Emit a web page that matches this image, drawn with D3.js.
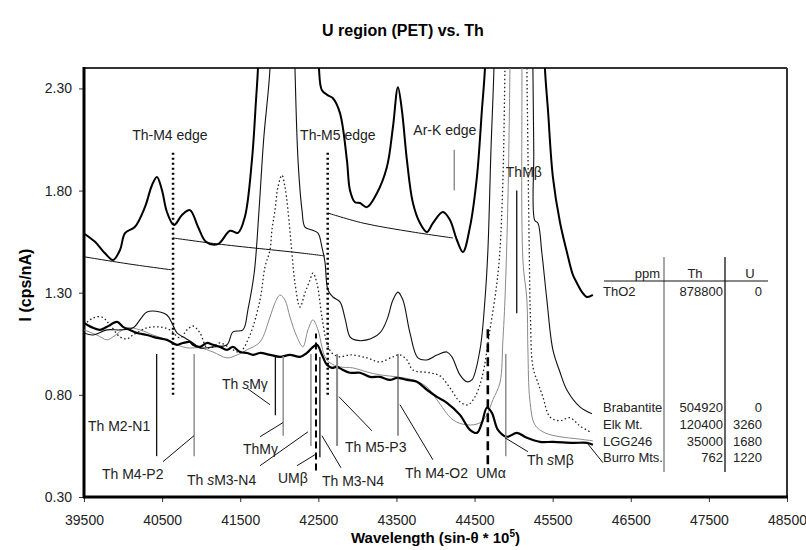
<!DOCTYPE html>
<html>
<head>
<meta charset="utf-8">
<script src="https://cdn.jsdelivr.net/npm/d3@7"></script>
<style>
  body { margin: 0; background: #fff; }
  svg { font-family: "Liberation Sans", Arial, sans-serif; }
</style>
</head>
<body>
<div id="chart"></div>
<script>
// Spectra: [wavelength (sin-theta * 1e5), intensity (cps/nA)]
const thO2 = [
  [39500,1.590],[39641,1.549],[39769,1.493],[39871,1.460],[39961,1.509],[40025,1.592],
  [40153,1.623],[40281,1.720],[40370,1.826],[40434,1.867],[40498,1.802],[40562,1.695],
  [40652,1.631],[40754,1.680],[40857,1.704],[40959,1.623],[41062,1.549],[41215,1.538],
  [41369,1.603],[41471,1.593],[41560,1.672],[41650,1.949],[41702,2.242],[41727,2.398],
  [41745,2.7],[42100,3.6],[42490,2.7],
  [42508,2.398],[42546,2.291],[42623,2.266],[42687,2.252],[42777,2.179],[42866,1.949],
  [42905,1.802],[42969,1.743],[43033,1.739],[43122,1.719],[43250,1.787],[43378,1.915],
  [43455,2.110],[43519,2.306],[43570,2.193],[43634,1.949],[43711,1.739],[43801,1.641],
  [43890,1.597],[43967,1.641],[44095,1.695],[44185,1.656],[44274,1.558],[44351,1.499],
  [44441,1.621],[44530,1.866],[44594,2.193],[44633,2.398],
  [44650,2.7],[45000,3.6],[45380,2.7],
  [45401,2.398],[45440,2.193],[45503,1.866],[45593,1.646],[45682,1.499],[45759,1.387],
  [45810,1.348],[45874,1.304],[45938,1.279],[46015,1.289]
];
const brabantite = [
  [39500,1.103],[39615,1.093],[39794,1.118],[39961,1.118],[40127,1.128],[40242,1.181],
  [40306,1.206],[40473,1.206],[40562,1.191],[40626,1.152],[40690,1.103],[40767,1.084],
  [40895,1.054],[40985,1.030],[41151,1.035],[41330,1.045],[41407,1.108],[41535,1.118],
  [41600,1.220],[41680,1.400],[41740,1.700],[41800,2.050],[41881,2.398],
  [41895,2.7],[42040,3.2],[42185,2.7],
  [42201,2.398],[42240,1.949],[42291,1.704],[42329,1.621],[42419,1.607],[42496,1.592],
  [42546,1.523],[42585,1.450],[42623,1.313],[42687,1.279],[42777,1.255],[42841,1.176],
  [42905,1.084],[42969,1.069],[43122,1.069],[43288,1.103],[43378,1.167],[43455,1.264],
  [43519,1.303],[43583,1.264],[43673,1.103],[43775,0.981],[43890,0.971],[44018,0.995],
  [44146,1.010],[44210,0.986],[44313,0.898],[44402,0.864],[44466,0.873],[44569,1.020],
  [44633,1.264],[44671,1.509],[44710,1.998],[44748,2.398],
  [44760,2.7],[45000,3.2],[45235,2.7],
  [45247,2.398],[45258,1.998],[45270,1.655],[45311,1.641],[45362,1.494],[45426,1.264],
  [45503,1.020],[45593,0.912],[45682,0.824],[45849,0.741],[46003,0.707]
];
const elkMt = [
  [39500,1.142],[39615,1.176],[39730,1.181],[39833,1.142],[39961,1.084],[40050,1.074],
  [40127,1.093],[40306,1.128],[40473,1.132],[40601,1.118],[40729,1.079],[40818,1.118],
  [40895,1.137],[40985,1.103],[41074,1.030],[41151,1.035],[41241,1.054],[41407,1.020],
  [41497,1.010],[41625,1.093],[41753,1.264],[41817,1.426],[41881,1.509],[41906,1.607],
  [41945,1.704],[41983,1.817],[42034,1.875],[42073,1.817],[42111,1.704],[42162,1.494],
  [42201,1.347],[42265,1.230],[42329,1.299],[42393,1.362],[42431,1.396],[42482,1.347],
  [42546,1.181],[42610,1.054],[42674,1.005],[42777,0.986],[42905,0.996],[43122,0.981],
  [43288,0.961],[43455,0.986],[43545,0.996],[43634,0.971],[43711,0.922],[43929,0.908],
  [44057,0.893],[44185,0.834],[44313,0.766],[44415,0.751],[44505,0.790],[44594,0.883],
  [44697,1.118],[44786,1.347],[44825,1.509],[44863,1.851],[44889,2.398],
  [44898,2.7],[45030,3.0],[45160,2.7],
  [45170,2.398],[45200,1.509],[45215,1.181],[45247,0.937],[45311,0.859],[45375,0.790],
  [45465,0.692],[45593,0.673],[45721,0.688],[45849,0.648],[46003,0.614]
];
const lgg246 = [
  [39500,1.118],[39666,1.093],[39794,1.069],[39871,1.084],[40050,1.128],[40217,1.118],
  [40383,1.093],[40562,1.069],[40690,1.045],[40818,1.030],[40985,1.030],[41151,1.010],
  [41330,0.981],[41458,0.995],[41586,1.020],[41753,1.059],[41881,1.181],[41945,1.250],
  [42009,1.289],[42073,1.264],[42137,1.181],[42226,1.084],[42303,1.035],[42367,1.118],
  [42431,1.167],[42496,1.118],[42546,1.035],[42585,0.986],[42649,0.957],[42777,0.937],
  [42943,0.932],[43122,0.912],[43288,0.898],[43506,0.888],[43711,0.873],[43890,0.839],
  [44018,0.776],[44223,0.678],[44402,0.653],[44569,0.663],[44658,0.702],[44735,0.776],
  [44825,0.859],[44863,1.069],[44889,1.264],[44927,1.753],[44953,2.398],
  [44960,2.7],[45030,2.9],[45098,2.7],
  [45106,2.398],[45119,1.460],[45170,1.264],[45183,1.020],[45208,0.775],[45273,0.653],
  [45401,0.614],[45593,0.595],[45810,0.585],[46015,0.575]
];
const burroMts = [
  [39500,1.152],[39615,1.128],[39705,1.118],[39794,1.133],[39922,1.157],[39999,1.133],
  [40089,1.118],[40178,1.103],[40306,1.093],[40434,1.079],[40562,1.069],[40690,1.045],
  [40767,1.054],[40857,1.059],[40895,1.045],[40985,1.035],[41074,1.054],[41151,1.045],
  [41241,1.035],[41330,1.020],[41407,1.035],[41497,1.010],[41586,1.005],[41663,0.996],
  [41753,1.005],[41881,0.996],[42009,0.986],[42137,0.996],[42265,0.986],[42354,1.005],
  [42419,1.030],[42482,1.045],[42546,0.996],[42610,0.947],[42674,0.932],[42738,0.937],
  [42815,0.922],[42905,0.908],[43033,0.908],[43161,0.888],[43288,0.888],[43417,0.873],
  [43506,0.883],[43634,0.873],[43762,0.864],[43890,0.825],[44018,0.790],[44146,0.761],
  [44313,0.702],[44441,0.629],[44530,0.614],[44594,0.663],[44658,0.737],[44722,0.712],
  [44799,0.629],[44914,0.595],[45042,0.614],[45170,0.590],[45337,0.570],[45503,0.570],
  [45759,0.565],[45938,0.565],[46015,0.556]
];

// Background fits under the edges
const backgrounds = [
  [[39500,1.476],[40089,1.440],[40639,1.411]],
  [[40640,1.568],[41202,1.539],[42265,1.495],[42585,1.480]],
  [[42623,1.690],[43071,1.641],[43711,1.597],[44223,1.568]]
];

// Absorption edges: [label, wavelength, low, high]
const edges = [
  ['Th-M4 edge', 40640, 0.80, 2.00],
  ['Th-M5 edge', 42620, 0.80, 2.00]
];
const arEdge = ['Ar-K edge', 44240, 1.80, 2.00];

// Line positions: [wavelength, low, high, style]
const peakLines = [
  [40430, 0.50, 1.00, 'black'],  // Th M2-N1
  [40910, 0.50, 1.00, 'gray'],   // Th M4-P2
  [41950, 0.70, 0.99, 'black'],  // Th sMγ
  [42050, 0.60, 0.99, 'gray'],   // ThMγ
  [42405, 0.55, 1.00, 'gray'],   // Th sM3-N4
  [42470, 0.43, 1.10, 'dash'],   // UMβ
  [42520, 0.495, 0.985, 'black'],// Th M3-N4
  [42740, 0.55, 1.00, 'gray2'],  // Th M5-P3
  [43520, 0.60, 1.00, 'dark'],   // Th M4-O2
  [44670, 0.46, 1.14, 'dash2'],  // UMα
  [44900, 0.50, 1.00, 'gray'],   // Th sMβ
  [45040, 1.20, 1.80, 'black']   // ThMβ
];

// Line labels: [pre, italic, post, wavelength, intensity]
const lineLabels = [
  ['Th M2-N1', '', '', 39551, 0.624],
  ['Th M4-P2', '', '', 39730, 0.389],
  ['Th ', 's', 'Mγ', 41266, 0.829],
  ['ThMγ', '', '', 41535, 0.511],
  ['Th ', 's', 'M3-N4', 40818, 0.360],
  ['UMβ', '', '', 41983, 0.370],
  ['Th M3-N4', '', '', 42546, 0.355],
  ['Th M5-P3', '', '', 42841, 0.520],
  ['Th M4-O2', '', '', 43609, 0.395],
  ['UMα', '', '', 44518, 0.395],
  ['Th ', 's', 'Mβ', 45170, 0.458],
  ['ThMβ', '', '', 44900, 1.866]
];

// Leader lines from labels: [w1, i1, w2, i2]
const leaders = [
  [40511,0.473, 40908,0.600],
  [41599,0.829, 41881,0.752],
  [41753,0.595, 42047,0.664],
  [41753,0.453, 42367,0.619],
  [42226,0.453, 42457,0.507],
  [42790,0.443, 42546,0.600],
  [43186,0.624, 42764,0.791],
  [43967,0.482, 43545,0.752],
  [45183,0.522, 44889,0.590],
  [46143,0.468, 45938,0.566]
];

// Table
const samples = ['ThO2', 'Brabantite', 'Elk Mt.', 'LGG246', 'Burro Mts.'];
const thPpm = [878800, 504920, 120400, 35000, 762];
const uPpm = [0, 0, 3260, 1680, 1220];

const xTicks = d3.range(39500, 48501, 1000);
const yTicks = [0.30, 0.80, 1.30, 1.80, 2.30];

const width = 806, height = 550;
const margin = { top: 68, right: 19, bottom: 53, left: 84 };

const svg = d3.select('#chart').append('svg')
  .attr('width', width).attr('height', height);

const x = d3.scaleLinear().domain([39500, 48500]).range([margin.left, width - margin.right]);
const y = d3.scaleLinear().domain([0.3, 2.4]).range([height - margin.bottom, margin.top]);

svg.append('defs').append('clipPath').attr('id', 'plot')
  .append('rect')
  .attr('x', margin.left).attr('y', margin.top)
  .attr('width', x.range()[1] - margin.left)
  .attr('height', y.range()[0] - margin.top);

// title
svg.append('text')
  .attr('x', width / 2).attr('y', 36)
  .attr('text-anchor', 'middle')
  .attr('font-size', '16px').attr('font-weight', 'bold')
  .text('U region (PET) vs. Th');

// axes
const xAxis = svg.append('g')
  .attr('transform', `translate(0,${y.range()[0]})`)
  .call(d3.axisBottom(x).tickValues(xTicks).tickFormat(d3.format('d')).tickSize(5).tickPadding(13));
const yAxis = svg.append('g')
  .attr('transform', `translate(${margin.left},0)`)
  .call(d3.axisLeft(y).tickValues(yTicks).tickFormat(d3.format('.2f')).tickSize(5).tickPadding(7));
[xAxis, yAxis].forEach(a => {
  a.selectAll('text').attr('font-size', '14px').attr('fill', '#222')
    .attr('font-family', '"Liberation Sans", Arial, sans-serif');
  a.selectAll('.tick line').attr('stroke', '#333');
  a.select('.domain').remove();
});

// frame
const fx0 = x.range()[0], fx1 = x.range()[1], fy0 = y.range()[1], fy1 = y.range()[0];
svg.append('line').attr('x1', fx0).attr('x2', fx1).attr('y1', fy0).attr('y2', fy0)
  .attr('stroke', '#333').attr('stroke-width', 2);
svg.append('line').attr('x1', fx1).attr('x2', fx1).attr('y1', fy0).attr('y2', fy1)
  .attr('stroke', '#333').attr('stroke-width', 2);
svg.append('line').attr('x1', fx0 - 1).attr('x2', fx1 + 1).attr('y1', fy1).attr('y2', fy1)
  .attr('stroke', '#000').attr('stroke-width', 3);
svg.append('line').attr('x1', fx0).attr('x2', fx0).attr('y1', fy0 - 1).attr('y2', fy1 + 1)
  .attr('stroke', '#000').attr('stroke-width', 3);

// axis titles
svg.append('text')
  .attr('x', (fx0 + fx1) / 2).attr('y', 543)
  .attr('text-anchor', 'middle')
  .attr('font-size', '15px').attr('font-weight', 'bold')
  .call(t => {
    t.append('tspan').text('Wavelength (sin-θ * 10');
    t.append('tspan').attr('font-size', '10px').attr('dy', -6).text('5');
    t.append('tspan').attr('dy', 6).text(')');
  });
svg.append('text')
  .attr('transform', 'translate(31,285) rotate(-90)')
  .attr('text-anchor', 'middle')
  .attr('font-size', '16px').attr('font-weight', 'bold')
  .text('I (cps/nA)');

const line = d3.line()
  .x(d => x(d[0])).y(d => y(d[1]))
  .curve(d3.curveCatmullRom.alpha(0.5));

const plot = svg.append('g').attr('clip-path', 'url(#plot)');

// background fits
plot.append('g').selectAll('path')
  .data(backgrounds).enter().append('path')
  .attr('d', line).attr('fill', 'none')
  .attr('stroke', '#111').attr('stroke-width', 1);

// spectra
const series = [
  { data: lgg246, stroke: '#8a8a8a', width: 1, dash: null },
  { data: elkMt, stroke: '#222', width: 1.3, dash: '1.5,2.5' },
  { data: brabantite, stroke: '#111', width: 1.1, dash: null },
  { data: burroMts, stroke: '#000', width: 2.2, dash: null },
  { data: thO2, stroke: '#000', width: 2, dash: null }
];
plot.append('g').selectAll('path')
  .data(series).enter().append('path')
  .attr('d', d => line(d.data))
  .attr('fill', 'none')
  .attr('stroke', d => d.stroke)
  .attr('stroke-width', d => d.width)
  .attr('stroke-dasharray', d => d.dash)
  .attr('stroke-linejoin', 'round');

// edges
plot.append('g').selectAll('line')
  .data(edges).enter().append('line')
  .attr('x1', d => x(d[1])).attr('x2', d => x(d[1]))
  .attr('y1', d => y(d[2])).attr('y2', d => y(d[3]))
  .attr('stroke', '#000').attr('stroke-width', 2.5)
  .attr('stroke-dasharray', '2,3');
plot.append('line')
  .attr('x1', x(arEdge[1])).attr('x2', x(arEdge[1]))
  .attr('y1', y(arEdge[2])).attr('y2', y(arEdge[3]))
  .attr('stroke', '#777').attr('stroke-width', 1.2);

svg.append('g').selectAll('text')
  .data(edges.concat([arEdge])).enter().append('text')
  .attr('x', (d, i) => x([40600, 42750, 44120][i]))
  .attr('y', (d, i) => y([2.05, 2.05, 2.07][i]))
  .attr('text-anchor', 'middle')
  .attr('font-size', '14px').attr('fill', '#222')
  .text(d => d[0]);

// line positions
const peakStyle = {
  black: { stroke: '#111', w: 1.3, dash: null },
  gray: { stroke: '#888', w: 1.4, dash: null },
  gray2: { stroke: '#888', w: 2, dash: null },
  dark: { stroke: '#555', w: 1.2, dash: null },
  dash: { stroke: '#000', w: 2, dash: '7,4' },
  dash2: { stroke: '#000', w: 2.6, dash: '9,5' }
};
plot.append('g').selectAll('line')
  .data(peakLines).enter().append('line')
  .attr('x1', d => x(d[0])).attr('x2', d => x(d[0]))
  .attr('y1', d => y(d[1])).attr('y2', d => y(d[2]))
  .attr('stroke', d => peakStyle[d[3]].stroke)
  .attr('stroke-width', d => peakStyle[d[3]].w)
  .attr('stroke-dasharray', d => peakStyle[d[3]].dash);

plot.append('g').selectAll('line')
  .data(leaders).enter().append('line')
  .attr('x1', d => x(d[0])).attr('y1', d => y(d[1]))
  .attr('x2', d => x(d[2])).attr('y2', d => y(d[3]))
  .attr('stroke', '#111').attr('stroke-width', 1);

const lbl = svg.append('g').selectAll('text')
  .data(lineLabels).enter().append('text')
  .attr('x', d => x(d[3])).attr('y', d => y(d[4]))
  .attr('font-size', '14px').attr('fill', '#222');
lbl.append('tspan').text(d => d[0]);
lbl.append('tspan').attr('font-style', 'italic').text(d => d[1]);
lbl.append('tspan').text(d => d[2]);

// table
const tbl = svg.append('g').attr('font-size', '13px').attr('fill', '#222');
const colName = 603, colTh = 723, colU = 762;
const rowY = [296, 412, 429, 446, 462];
tbl.append('line').attr('x1', 664).attr('x2', 664).attr('y1', 257).attr('y2', 472)
  .attr('stroke', '#777').attr('stroke-width', 1.3);
tbl.append('line').attr('x1', 725).attr('x2', 725).attr('y1', 257).attr('y2', 472)
  .attr('stroke', '#111').attr('stroke-width', 1.3);
tbl.append('line').attr('x1', 604).attr('x2', 768).attr('y1', 281).attr('y2', 281)
  .attr('stroke', '#111').attr('stroke-width', 1);
tbl.append('text').attr('x', 660).attr('y', 278).attr('text-anchor', 'end').text('ppm');
tbl.append('text').attr('x', 695).attr('y', 278).attr('text-anchor', 'middle').text('Th');
tbl.append('text').attr('x', 750).attr('y', 278).attr('text-anchor', 'middle').text('U');
samples.forEach((s, i) => {
  tbl.append('text').attr('x', colName).attr('y', rowY[i]).text(s);
  tbl.append('text').attr('x', colTh).attr('y', rowY[i]).attr('text-anchor', 'end').text(thPpm[i]);
  tbl.append('text').attr('x', colU).attr('y', rowY[i]).attr('text-anchor', 'end').text(uPpm[i]);
});
</script>
</body>
</html>
